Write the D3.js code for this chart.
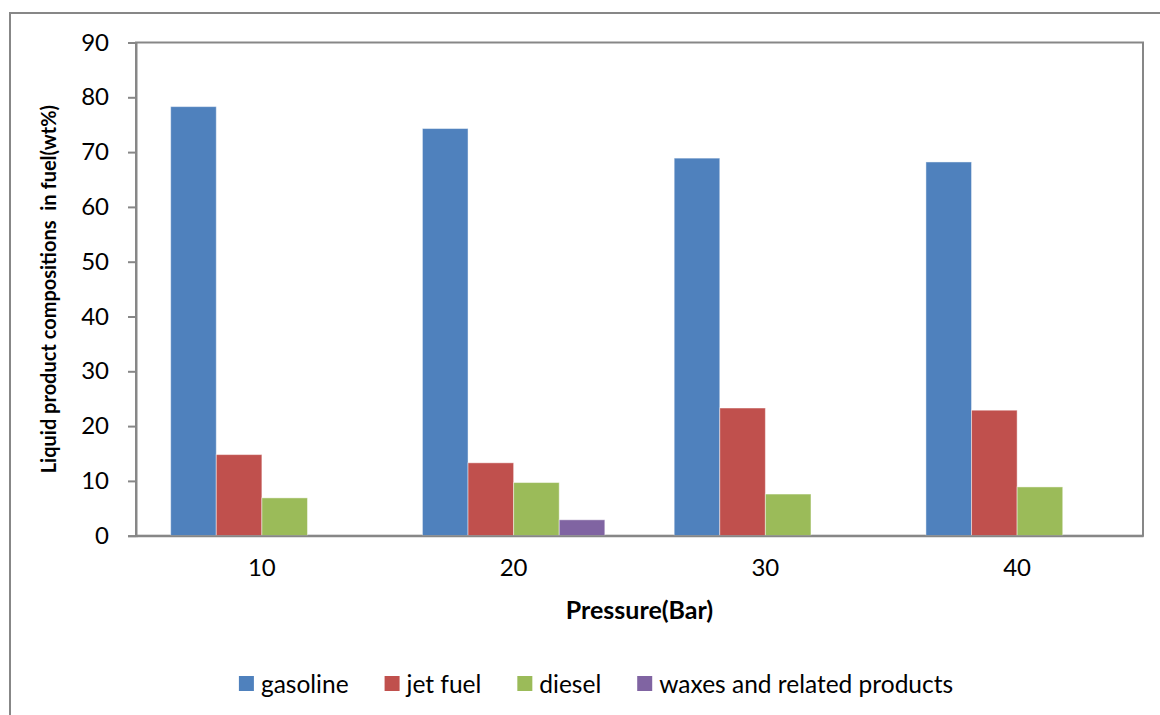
<!DOCTYPE html>
<html>
<head>
<meta charset="utf-8">
<script src="https://cdn.jsdelivr.net/npm/d3@7"></script>
<style>
  html, body { margin: 0; padding: 0; background: #fff; }
  svg { display: block; font-family: Lato, "Open Sans", "Liberation Sans", sans-serif; }
</style>
</head>
<body>
<svg id="chart" width="1160" height="715"></svg>
<script>
const categories = ["10", "20", "30", "40"];
const seriesNames = ["gasoline", "jet fuel", "diesel", "waxes and related products"];
const gasoline = [78.3, 74.3, 68.9, 68.2];
const jetFuel = [14.8, 13.3, 23.3, 22.9];
const diesel = [6.9, 9.7, 7.6, 8.9];
const waxes = [0, 2.9, 0, 0];
const yTicks = [0, 10, 20, 30, 40, 50, 60, 70, 80, 90];
const colors = ["#4F81BD", "#C0504D", "#9BBB59", "#8064A2"];

const seriesValues = [gasoline, jetFuel, diesel, waxes];
const data = categories.map((c, i) => ({
  cat: c,
  vals: seriesNames.map((s, j) => ({ series: s, idx: j, value: seriesValues[j][i] }))
}));

const svg = d3.select("#chart");
const plot = { left: 136, right: 1143, top: 42.5, bottom: 535.7 };

// outer chart border
svg.append("rect")
  .attr("x", 10).attr("y", 13).attr("width", 1170).attr("height", 720)
  .attr("fill", "none").attr("stroke", "#878787").attr("stroke-width", 2);

const x0 = d3.scaleBand().domain(categories)
  .range([plot.left, plot.right])
  .paddingInner(0.2755).paddingOuter(0.2755 / 2);
const x1 = d3.scaleBand().domain(seriesNames).range([0, x0.bandwidth()]).padding(0);
const y = d3.scaleLinear().domain([0, 90]).range([plot.bottom, plot.top]);

// plot area border (top & right)
svg.append("rect")
  .attr("x", plot.left).attr("y", plot.top)
  .attr("width", plot.right - plot.left).attr("height", plot.bottom - plot.top)
  .attr("fill", "none").attr("stroke", "#878787").attr("stroke-width", 2);

// bars
const groups = svg.append("g").selectAll("g").data(data).join("g")
  .attr("transform", d => `translate(${x0(d.cat)},0)`);
groups.selectAll("rect").data(d => d.vals.filter(v => v.value > 0)).join("rect")
  .attr("x", d => x1(d.series))
  .attr("width", x1.bandwidth())
  .attr("y", d => y(d.value))
  .attr("height", d => y(0) - y(d.value))
  .attr("fill", d => colors[d.idx])
  .attr("stroke", "rgba(255,255,255,0.45)")
  .attr("stroke-width", 1);

// y axis
const yAxis = svg.append("g")
  .attr("transform", `translate(${plot.left},0)`)
  .call(d3.axisLeft(y).tickValues(yTicks).tickSize(8).tickPadding(19).tickFormat(d3.format("d")));
yAxis.select(".domain").attr("stroke", "#878787").attr("stroke-width", 2);
yAxis.selectAll(".tick line").attr("stroke", "#878787").attr("stroke-width", 2);
yAxis.selectAll(".tick text").attr("font-size", 24).attr("fill", "#000")
  .attr("font-family", "Lato, 'Open Sans', sans-serif");

// x axis
const xAxis = svg.append("g")
  .attr("transform", `translate(0,${plot.bottom})`)
  .call(d3.axisBottom(x0).tickSize(0).tickPadding(23));
xAxis.select(".domain").attr("stroke", "#878787").attr("stroke-width", 2);
xAxis.selectAll(".tick text").attr("font-size", 24).attr("fill", "#000")
  .attr("font-family", "Lato, 'Open Sans', sans-serif");

// axis titles
svg.append("text")
  .attr("x", (plot.left + plot.right) / 2).attr("y", 619)
  .attr("text-anchor", "middle")
  .attr("font-size", 25).attr("font-weight", "bold").attr("fill", "#000")
  .text("Pressure(Bar)");

svg.append("text")
  .attr("transform", `translate(56,${(plot.top + plot.bottom) / 2}) rotate(-90)`)
  .attr("text-anchor", "middle")
  .attr("font-size", 20).attr("font-weight", "bold").attr("fill", "#000")
  .attr("xml:space", "preserve")
  .style("white-space", "pre")
  .text("Liquid product compositions  in fuel(wt%)");

// legend
const legend = svg.append("g");
const items = legend.selectAll("g").data(seriesNames).join("g");
items.append("rect").attr("width", 15).attr("height", 15).attr("y", -8)
  .attr("fill", (d, i) => colors[i]);
items.append("text").attr("x", 22).attr("y", 0).attr("dy", "0.35em")
  .attr("font-size", 24.5).attr("fill", "#000").text(d => d);
let cx = 0;
items.each(function () {
  const w = this.getBBox().width;
  d3.select(this).attr("transform", `translate(${cx},0)`);
  cx += w + 36;
});
const totalW = cx - 36;
legend.attr("transform", `translate(${596 - totalW / 2},684)`);
</script>
</body>
</html>
